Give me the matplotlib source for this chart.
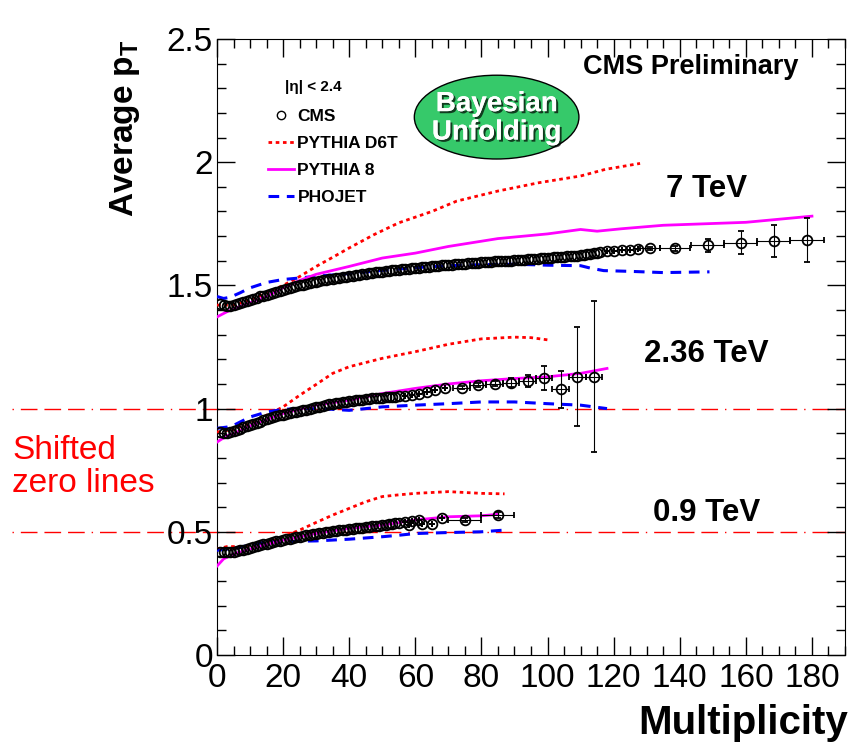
import matplotlib
matplotlib.use("Agg")
import matplotlib.pyplot as plt
import matplotlib.patheffects as pe
from matplotlib.patches import Ellipse
from matplotlib.lines import Line2D
from matplotlib.ticker import MultipleLocator, FuncFormatter
import numpy as np

plt.rcParams['font.family'] = ['Liberation Sans', 'DejaVu Sans']
plt.rcParams['mathtext.fontset'] = 'custom'
plt.rcParams['mathtext.rm'] = 'Liberation Sans:bold'

# vertical shift applied to each energy (the "shifted zero lines")
offset_7 = 1.0
offset_236 = 0.5
offset_09 = 0.0

# ---- CMS data, 7 TeV ----
cms7_x = list(range(1, 117))
cms7_y = [0.425, 0.420, 0.418, 0.418, 0.420, 0.423, 0.427, 0.432, 0.437, 0.442,
          0.446, 0.450, 0.455, 0.459, 0.463, 0.467, 0.471, 0.475, 0.479, 0.483,
          0.487, 0.490, 0.494, 0.497, 0.500, 0.503, 0.506, 0.509, 0.512, 0.515,
          0.518, 0.520, 0.523, 0.525, 0.527, 0.529, 0.532, 0.534, 0.536, 0.538,
          0.540, 0.542, 0.544, 0.545, 0.547, 0.549, 0.551, 0.553, 0.554, 0.556,
          0.558, 0.559, 0.561, 0.562, 0.564, 0.565, 0.567, 0.568, 0.570, 0.571,
          0.572, 0.574, 0.575, 0.576, 0.577, 0.578, 0.580, 0.581, 0.582, 0.583,
          0.584, 0.585, 0.586, 0.587, 0.588, 0.589, 0.590, 0.591, 0.592, 0.593,
          0.594, 0.595, 0.596, 0.597, 0.597, 0.598, 0.599, 0.600, 0.601, 0.602,
          0.603, 0.604, 0.605, 0.606, 0.607, 0.608, 0.609, 0.610, 0.611, 0.612,
          0.613, 0.614, 0.615, 0.616, 0.617, 0.618, 0.619, 0.620, 0.621, 0.622,
          0.624, 0.626, 0.628, 0.630, 0.632, 0.634]
cms7_bx = [118, 120, 122.5, 125, 127.5, 131, 138.5, 148.5, 158.5, 168.5, 178.5]
cms7_by = [0.638, 0.641, 0.643, 0.644, 0.646, 0.650, 0.650, 0.663, 0.674, 0.681, 0.684]
cms7_bye = [0, 0, 0, 0, 0, 0.006, 0.010, 0.026, 0.045, 0.065, 0.090]
cms7_bxe = [0, 0, 0, 0, 0, 3, 4.5, 5, 5, 5, 5]

# ---- CMS data, 2.36 TeV ----
cms236_x = list(range(1, 56))
cms236_y = [0.405, 0.403, 0.403, 0.405, 0.410, 0.414, 0.419, 0.424, 0.429, 0.435,
            0.439, 0.443, 0.447, 0.452, 0.456, 0.460, 0.464, 0.468, 0.472, 0.476,
            0.479, 0.482, 0.485, 0.487, 0.490, 0.493, 0.496, 0.499, 0.502, 0.505,
            0.508, 0.511, 0.514, 0.517, 0.520, 0.522, 0.524, 0.526, 0.528, 0.530,
            0.532, 0.533, 0.535, 0.536, 0.538, 0.539, 0.541, 0.542, 0.544, 0.545,
            0.546, 0.547, 0.548, 0.549, 0.550]
cms236_bx = [57, 59, 61, 63.5, 66, 69, 74, 79, 84, 89, 94, 99, 104, 109, 114]
cms236_by = [0.553, 0.557, 0.561, 0.568, 0.574, 0.582, 0.584, 0.595, 0.600, 0.605,
             0.612, 0.625, 0.579, 0.630, 0.630]
cms236_bye = [0, 0, 0, 0, 0, 0, 0.006, 0.008, 0.010, 0.018, 0.025, 0.048, 0.075, 0.200, 0.305]
cms236_bxe = [0, 0, 0, 0, 0, 0, 2.5, 2.5, 2.5, 2.5, 2.5, 2.5, 2.5, 2.5, 2.5]

# ---- CMS data, 0.9 TeV ----
cms09_x = list(range(1, 56))
cms09_y = [0.420, 0.417, 0.416, 0.417, 0.419, 0.422, 0.425, 0.428, 0.431, 0.435,
           0.438, 0.442, 0.445, 0.449, 0.452, 0.455, 0.458, 0.461, 0.463, 0.466,
           0.469, 0.472, 0.475, 0.477, 0.480, 0.483, 0.485, 0.488, 0.491, 0.493,
           0.495, 0.497, 0.499, 0.501, 0.503, 0.505, 0.506, 0.508, 0.509, 0.511,
           0.512, 0.514, 0.515, 0.517, 0.518, 0.520, 0.522, 0.523, 0.525, 0.527,
           0.529, 0.531, 0.533, 0.535, 0.537]
cms09_bx = [57, 58, 59, 61, 62, 65, 68, 75, 85]
cms09_by = [0.541, 0.528, 0.545, 0.548, 0.530, 0.533, 0.557, 0.548, 0.568]
cms09_bye = [0, 0, 0, 0, 0, 0, 0, 0.008, 0.012]
cms09_bxe = [0, 0, 0, 0, 0, 0, 0, 5, 5]

# ---- MC curves ----
d6t7_x = [0, 5, 10, 15, 20, 25, 30, 35, 40, 47.5, 55, 65, 72.5, 85, 97.5, 110, 117.5, 128]
d6t7_y = [0.42, 0.42, 0.44, 0.47, 0.50, 0.536, 0.577, 0.614, 0.652, 0.706, 0.754, 0.800,
          0.842, 0.883, 0.917, 0.944, 0.971, 0.995]
py87_x = [0, 3, 6, 10, 15, 20, 25, 30, 40, 50, 60, 70, 85, 100, 110, 115, 122.5, 135, 160, 180]
py87_y = [0.372, 0.393, 0.410, 0.430, 0.455, 0.490, 0.520, 0.545, 0.577, 0.611, 0.631, 0.658,
          0.690, 0.709, 0.727, 0.720, 0.730, 0.744, 0.756, 0.781]
pho7_x = [0, 2, 4, 7, 10, 15, 20, 25, 30, 40, 50, 60, 70, 80, 90, 100, 110, 113, 117, 125, 135, 149]
pho7_y = [0.455, 0.447, 0.452, 0.470, 0.490, 0.512, 0.524, 0.530, 0.537, 0.548, 0.561, 0.572,
          0.580, 0.584, 0.586, 0.582, 0.580, 0.570, 0.560, 0.557, 0.552, 0.555]

d6t236_x = [0, 5, 10, 15, 20, 25, 30, 35, 40, 50, 60, 70, 80, 90, 95, 100]
d6t236_y = [0.405, 0.415, 0.440, 0.473, 0.507, 0.554, 0.598, 0.643, 0.670, 0.704, 0.731,
            0.761, 0.783, 0.790, 0.788, 0.779]
py8236_x = [0, 3, 5, 10, 20, 30, 40, 50, 60, 70, 80, 90, 100, 110, 118]
py8236_y = [0.364, 0.390, 0.398, 0.430, 0.480, 0.514, 0.534, 0.561, 0.582, 0.600, 0.613,
            0.622, 0.629, 0.643, 0.663]
pho236_x = [0, 3, 5, 10, 15, 20, 25, 30, 35, 40, 45, 50, 60, 70, 80, 90, 100, 110, 118]
pho236_y = [0.420, 0.425, 0.432, 0.466, 0.486, 0.497, 0.500, 0.500, 0.497, 0.493, 0.500,
            0.507, 0.514, 0.520, 0.527, 0.527, 0.520, 0.514, 0.500]

d6t09_x = [0, 3, 10, 15, 20, 25, 30, 35, 40, 45, 50, 55, 60, 70, 80, 87]
d6t09_y = [0.430, 0.440, 0.440, 0.452, 0.480, 0.507, 0.538, 0.568, 0.595, 0.622, 0.643,
           0.650, 0.656, 0.663, 0.656, 0.654]
py809_x = [0, 2, 5, 10, 20, 30, 40, 50, 60, 70, 80, 85]
py809_y = [0.361, 0.390, 0.410, 0.430, 0.466, 0.493, 0.514, 0.527, 0.548, 0.561, 0.565, 0.571]
pho09_x = [0, 5, 10, 15, 20, 25, 30, 40, 50, 55, 60, 70, 80, 87]
pho09_y = [0.425, 0.432, 0.446, 0.459, 0.459, 0.462, 0.463, 0.470, 0.480, 0.486, 0.493,
           0.497, 0.500, 0.507]

energy_labels = ["7 TeV", "2.36 TeV", "0.9 TeV"]
legend_labels = ["CMS", "PYTHIA D6T", "PYTHIA 8", "PHOJET"]

RED = "#ff0000"
MAG = "#ff00ff"
BLUE = "#0000ff"
d6t_style = dict(color=RED, lw=2, ls=(0, (1.3, 1.3)))
py8_style = dict(color=MAG, lw=2, ls="-")
pho_style = dict(color=BLUE, lw=2.2, ls=(0, (3.5, 2.5)))

fig = plt.figure(figsize=(8.52, 7.46), dpi=100)
ax = fig.add_axes([217 / 852, 1 - 655 / 746, 628 / 852, 616 / 746])

# shifted zero lines, drawn out into the left margin
for off in [offset_7, offset_236]:
    ax.plot([-62, 190], [off, off], color=RED, lw=1,
            ls=(0, (1, 5, 12, 5, 12, 5, 12, 5)), clip_on=False, zorder=1)

datasets = [
    (offset_7, d6t7_x, d6t7_y, py87_x, py87_y, pho7_x, pho7_y,
     cms7_x, cms7_y, cms7_bx, cms7_by, cms7_bxe, cms7_bye),
    (offset_236, d6t236_x, d6t236_y, py8236_x, py8236_y, pho236_x, pho236_y,
     cms236_x, cms236_y, cms236_bx, cms236_by, cms236_bxe, cms236_bye),
    (offset_09, d6t09_x, d6t09_y, py809_x, py809_y, pho09_x, pho09_y,
     cms09_x, cms09_y, cms09_bx, cms09_by, cms09_bxe, cms09_bye),
]

for (off, dx, dy, px, py, hx, hy, cx, cy, bx, by, bxe, bye) in datasets:
    ax.plot(dx, np.array(dy) + off, zorder=3, **d6t_style)
    ax.plot(hx, np.array(hy) + off, zorder=3, **pho_style)
    ax.plot(px, np.array(py) + off, zorder=3, **py8_style)
    ax.plot(cx, np.array(cy) + off, "o", mfc="none", mec="k", ms=7, mew=1.3, zorder=4)
    ax.errorbar(bx, np.array(by) + off, xerr=bxe, yerr=bye, fmt="o", mfc="none", mec="k",
                ms=7, mew=1.3, ecolor="k", elinewidth=0.8, capsize=2, capthick=0.8, zorder=4)

ax.set_xlim(0, 190)
ax.set_ylim(0, 2.5)
ax.xaxis.set_major_locator(MultipleLocator(20))
ax.xaxis.set_minor_locator(MultipleLocator(5))
ax.yaxis.set_major_locator(MultipleLocator(0.5))
ax.yaxis.set_minor_locator(MultipleLocator(0.1))
ax.yaxis.set_major_formatter(FuncFormatter(lambda v, p: "%g" % v))
ax.tick_params(which="both", direction="in", top=True, right=True, width=1)
ax.tick_params(which="major", length=13, labelsize=24, pad=3)
ax.tick_params(axis="x", which="major", pad=6)
ax.tick_params(which="minor", length=6.5)
for lab in ax.get_xticklabels() + ax.get_yticklabels():
    lab.set_fontfamily(["Liberation Sans Narrow", "Liberation Sans"])

ax.set_xlabel("Multiplicity", fontsize=29, fontweight="bold", loc="right")
ax.xaxis.set_label_coords(1.005, -0.08)
ax.set_ylabel(r"Average p$_{\mathrm{T}}$", fontsize=24, fontweight="bold", loc="top")
ax.yaxis.set_label_coords(-0.12, 1.0)

ax.text(176, 2.385, "CMS Preliminary", fontsize=19.5, fontweight="bold", ha="right", va="center")
for label, y in zip(energy_labels, [1.89, 1.22, 0.575]):
    ax.text(148, y, label, fontsize=22.5, fontweight="bold", ha="center", va="center")

ax.add_patch(Ellipse((84.6, 2.183), 49.8, 0.34, facecolor="#36c96a", edgecolor="k",
                     lw=1, zorder=5))
ax.text(84.6, 2.178, "Bayesian\nUnfolding", fontsize=20, fontweight="bold", color="white",
        ha="center", va="center", linespacing=1.12, zorder=6,
        path_effects=[pe.withSimplePatchShadow(offset=(1.5, -1.5), shadow_rgbFace="k", alpha=0.7),
                      pe.Normal()])

ax.text(20.5, 2.305, "|η| < 2.4", fontsize=11, fontweight="bold", va="center")
handles = [Line2D([], [], marker="o", mfc="none", mec="k", ms=6, mew=1, ls="none"),
           Line2D([], [], **d6t_style),
           Line2D([], [], **py8_style),
           Line2D([], [], **pho_style)]
ax.legend(handles, legend_labels, loc="upper left", bbox_to_anchor=(0.081, 0.886),
          frameon=False, prop=dict(weight="bold", size=12.5), handlelength=1.5,
          handletextpad=0.2, labelspacing=0.68, borderpad=0, borderaxespad=0)

fig.text(12 / 852, 1 - 467 / 746, "Shifted\nzero lines", color=RED, fontsize=24,
         ha="left", va="center", linespacing=1.12)

fig.savefig("out.png", dpi=100)
